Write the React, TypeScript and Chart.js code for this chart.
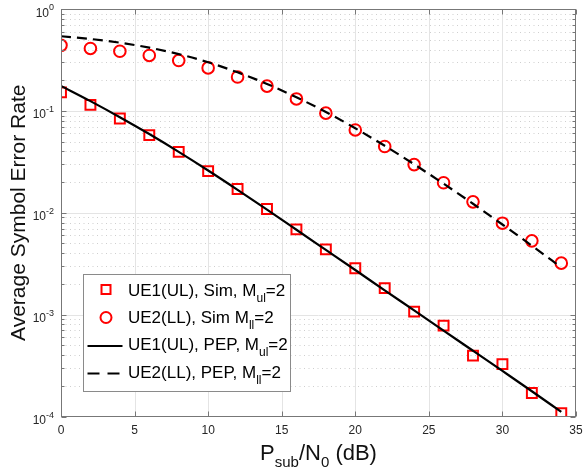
import { useEffect, useRef } from 'react';
import { Chart, registerables } from 'chart.js';

Chart.register(...registerables);

// ---- data ----
const snrDb = [0, 2, 4, 6, 8, 10, 12, 14, 16, 18, 20, 22, 24, 26, 28, 30, 32, 34];
const ue1Sim = [0.152, 0.1145, 0.0842, 0.0578, 0.0396, 0.0256, 0.0171, 0.01087, 0.00687, 0.00437, 0.00285, 0.00182, 0.00107, 0.00078, 0.000396, 0.000327, 0.00017, 0.000108];
const ue2Sim = [0.44, 0.41, 0.385, 0.35, 0.312, 0.264, 0.215, 0.175, 0.131, 0.095, 0.065, 0.0447, 0.0297, 0.0197, 0.0128, 0.0079, 0.0053, 0.0032];
const ue1Pep = [0.176, 0.1247, 0.0867, 0.0592, 0.0396, 0.026, 0.0168, 0.01072, 0.00681, 0.00432, 0.00274, 0.00173, 0.0011, 0.000697, 0.000442, 0.00028, 0.000177, 0.000111];
const ue2Pep = [0.54, 0.508, 0.467, 0.417, 0.361, 0.3, 0.239, 0.184, 0.136, 0.0975, 0.0675, 0.0454, 0.0299, 0.0193, 0.01225, 0.00767, 0.00475, 0.00291];
const xTicks = [0, 5, 10, 15, 20, 25, 30, 35];
const yDecades = [-4, -3, -2, -1, 0];
const legendRows = [
  { pre: 'UE1(UL), Sim, M', sub: 'ul', post: '=2', kind: 'square' },
  { pre: 'UE2(LL), Sim M', sub: 'll', post: '=2', kind: 'circle' },
  { pre: 'UE1(UL), PEP, M', sub: 'ul', post: '=2', kind: 'solid' },
  { pre: 'UE2(LL), PEP, M', sub: 'll', post: '=2', kind: 'dashed' },
];

const FONT = '"Liberation Sans", Arial, Helvetica, sans-serif';
const RED = '#ff0000';
const AXIS = '#777777';

const pts = (ys: number[]) => snrDb.map((x, i) => ({ x, y: ys[i] }));

const decorPlugin = {
  id: 'decor',
  beforeDatasetsDraw(chart: any) {
    const { ctx, chartArea: a, scales } = chart;
    const x = scales.x, y = scales.y;
    ctx.save();
    ctx.lineWidth = 1;
    // minor dotted horizontal grid
    ctx.strokeStyle = '#cfcfcf';
    ctx.setLineDash([1, 3.5]);
    for (let d = -4; d < 0; d++) {
      for (let k = 2; k <= 9; k++) {
        const py = Math.round(y.getPixelForValue(k * Math.pow(10, d))) + 0.5;
        ctx.beginPath();
        ctx.moveTo(a.left, py);
        ctx.lineTo(a.right, py);
        ctx.stroke();
      }
    }
    // major solid grid
    ctx.setLineDash([]);
    ctx.strokeStyle = '#e4e4e4';
    xTicks.slice(1, -1).forEach((v) => {
      const px = Math.round(x.getPixelForValue(v)) + 0.5;
      ctx.beginPath();
      ctx.moveTo(px, a.top);
      ctx.lineTo(px, a.bottom);
      ctx.stroke();
    });
    yDecades.slice(1, -1).forEach((d) => {
      const py = Math.round(y.getPixelForValue(Math.pow(10, d))) + 0.5;
      ctx.beginPath();
      ctx.moveTo(a.left, py);
      ctx.lineTo(a.right, py);
      ctx.stroke();
    });
    ctx.restore();
  },
  afterDatasetsDraw(chart: any) {
    const { ctx, chartArea: a, scales } = chart;
    const x = scales.x, y = scales.y;
    ctx.save();
    // box
    ctx.strokeStyle = AXIS;
    ctx.lineWidth = 1;
    const L = Math.round(a.left) + 0.5, R = Math.round(a.right) - 0.5;
    const T = Math.round(a.top) + 0.5, B = Math.round(a.bottom) - 0.5;
    ctx.strokeRect(L, T, R - L, B - T);
    // ticks
    ctx.beginPath();
    xTicks.forEach((v) => {
      const px = Math.round(x.getPixelForValue(v)) + 0.5;
      ctx.moveTo(px, B); ctx.lineTo(px, B - 5);
      ctx.moveTo(px, T); ctx.lineTo(px, T + 5);
    });
    yDecades.forEach((d) => {
      const py = Math.round(y.getPixelForValue(Math.pow(10, d))) + 0.5;
      ctx.moveTo(L, py); ctx.lineTo(L + 5, py);
      ctx.moveTo(R, py); ctx.lineTo(R - 5, py);
      if (d < 0) {
        for (let k = 2; k <= 9; k++) {
          const qy = Math.round(y.getPixelForValue(k * Math.pow(10, d))) + 0.5;
          ctx.moveTo(L, qy); ctx.lineTo(L + 3, qy);
          ctx.moveTo(R, qy); ctx.lineTo(R - 3, qy);
        }
      }
    });
    ctx.stroke();

    // tick labels
    ctx.fillStyle = '#262626';
    ctx.textAlign = 'center';
    ctx.textBaseline = 'middle';
    ctx.font = `12px ${FONT}`;
    xTicks.forEach((v) => {
      ctx.fillText(String(v), x.getPixelForValue(v), a.bottom + 14);
    });
    ctx.textAlign = 'left';
    ctx.textBaseline = 'alphabetic';
    yDecades.forEach((d) => {
      const py = y.getPixelForValue(Math.pow(10, d));
      const exp = String(d);
      ctx.font = `12px ${FONT}`;
      const wb = ctx.measureText('10').width;
      ctx.font = `9px ${FONT}`;
      const we = ctx.measureText(exp).width;
      const right = a.left - 7;
      ctx.font = `12px ${FONT}`;
      ctx.fillText('10', right - we - wb, py + 7.5);
      ctx.font = `9px ${FONT}`;
      ctx.fillText(exp, right - we, py + 1);
    });

    // x title with subscripts
    ctx.fillStyle = '#111111';
    const parts: [string, number, number][] = [
      ['P', 22, 0], ['sub', 15, 7], ['/N', 22, 0], ['0', 15, 7], [' (dB)', 22, 0],
    ];
    let total = 0;
    parts.forEach(([t, s]) => { ctx.font = `${s}px ${FONT}`; total += ctx.measureText(t).width; });
    let cx = (a.left + a.right) / 2 - total / 2;
    const baseY = 460;
    parts.forEach(([t, s, dy]) => {
      ctx.font = `${s}px ${FONT}`;
      ctx.fillText(t, cx, baseY + dy);
      cx += ctx.measureText(t).width;
    });

    // y title
    ctx.save();
    ctx.translate(25, (a.top + a.bottom) / 2);
    ctx.rotate(-Math.PI / 2);
    ctx.textAlign = 'center';
    ctx.font = `21px ${FONT}`;
    ctx.fillText('Average Symbol Error Rate', 0, 0);
    ctx.restore();

    // legend
    const lx = 83.5, ly = 274.5, lw = 207, lh = 117;
    ctx.fillStyle = '#ffffff';
    ctx.fillRect(lx, ly, lw, lh);
    ctx.strokeStyle = '#8a8a8a';
    ctx.lineWidth = 1;
    ctx.strokeRect(lx, ly, lw, lh);
    const baselines = [295.5, 322.5, 350, 377.5];
    legendRows.forEach((row, i) => {
      const bl = baselines[i];
      const cy = bl - 6;
      ctx.save();
      if (row.kind === 'square') {
        ctx.strokeStyle = RED; ctx.lineWidth = 2;
        ctx.strokeRect(106 - 4.5, cy - 4.5, 9, 9);
      } else if (row.kind === 'circle') {
        ctx.strokeStyle = RED; ctx.lineWidth = 2;
        ctx.beginPath(); ctx.arc(106, cy + 1, 5.5, 0, Math.PI * 2); ctx.stroke();
      } else {
        ctx.strokeStyle = '#000000'; ctx.lineWidth = 2;
        if (row.kind === 'dashed') ctx.setLineDash([12, 8]);
        ctx.beginPath(); ctx.moveTo(87.5, cy + 2); ctx.lineTo(122.5, cy + 2); ctx.stroke();
      }
      ctx.restore();
      ctx.fillStyle = '#000000';
      let tx = 128;
      ctx.font = `17px ${FONT}`;
      ctx.fillText(row.pre, tx, bl);
      tx += ctx.measureText(row.pre).width;
      ctx.font = `12px ${FONT}`;
      ctx.fillText(row.sub, tx, bl + 6);
      tx += ctx.measureText(row.sub).width;
      ctx.font = `17px ${FONT}`;
      ctx.fillText(row.post, tx, bl);
    });
    ctx.restore();
  },
};

export default function App() {
  const ref = useRef<HTMLCanvasElement | null>(null);
  useEffect(() => {
    document.body.style.margin = '0';
    const canvas = ref.current;
    if (!canvas) return;
    const chart = new Chart(canvas, {
      type: 'line',
      data: {
        datasets: [
          {
            label: 'UE1(UL), PEP, M_ul=2', data: pts(ue1Pep), borderColor: '#000000', borderWidth: 2.2,
            pointRadius: 0, cubicInterpolationMode: 'monotone', fill: false, order: 0,
          },
          {
            label: 'UE2(LL), PEP, M_ll=2', data: pts(ue2Pep), borderColor: '#000000', borderWidth: 2.2,
            borderDash: [10, 6], pointRadius: 0, cubicInterpolationMode: 'monotone', fill: false, order: 0,
          },
          {
            label: 'UE1(UL), Sim, M_ul=2', data: pts(ue1Sim), showLine: false, pointStyle: 'rect',
            pointRadius: 7, pointBorderWidth: 2, pointBorderColor: RED, pointBackgroundColor: 'rgba(0,0,0,0)', order: 1,
          },
          {
            label: 'UE2(LL), Sim M_ll=2', data: pts(ue2Sim), showLine: false, pointStyle: 'circle',
            pointRadius: 5.8, pointBorderWidth: 2, pointBorderColor: RED, pointBackgroundColor: 'rgba(0,0,0,0)', order: 1,
          },
        ],
      } as any,
      options: {
        responsive: false,
        animation: false,
        devicePixelRatio: 1,
        layout: { padding: { left: 61, right: 5, top: 8.5, bottom: 58.5 } },
        plugins: { legend: { display: false }, tooltip: { enabled: false } },
        scales: {
          x: { type: 'linear', min: 0, max: 35, display: false },
          y: { type: 'logarithmic', min: 1e-4, max: 1, display: false },
        },
      } as any,
      plugins: [decorPlugin],
    });
    return () => chart.destroy();
  }, []);
  return <canvas ref={ref} width={585} height={475} style={{ display: 'block', width: 585, height: 475 }} />;
}
